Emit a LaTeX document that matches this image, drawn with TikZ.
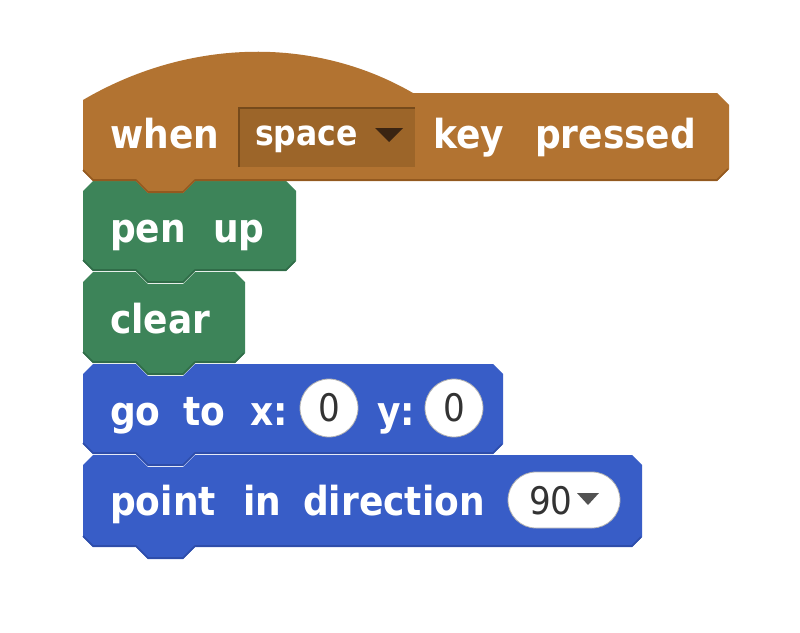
\documentclass[tikz,border=0pt]{standalone}
\usepackage{fontspec}
\newfontfamily\blockfont[FakeStretch=0.9]{DejaVu Sans}
\definecolor{evbrown}{HTML}{B27331}
\definecolor{evdark}{HTML}{93591F}
\definecolor{ddfill}{HTML}{9C6529}
\definecolor{ddedge}{HTML}{764A1B}
\definecolor{ddarrow}{HTML}{3A2412}
\definecolor{pengreen}{HTML}{3D8459}
\definecolor{pendark}{HTML}{306C48}
\definecolor{motblue}{HTML}{385DC7}
\definecolor{motdark}{HTML}{2E4DAA}
\definecolor{numgray}{HTML}{333333}
\newcommand\cmdblock[5]{%
  \fill[#1] (83,{#2+10}) -- (93,#2) -- (136,#2) -- (148,{#2+12}) -- (183,{#2+12}) -- (195,#2)
    -- ({#4-10},#2) -- (#4,{#2+10}) -- (#4,{#3-10}) -- ({#4-10},#3) -- (195,#3) -- (183,{#3+12})
    -- (148,{#3+12}) -- (136,#3) -- (93,#3) -- (83,{#3-10}) -- cycle;
  \draw[#5, line width=1.6pt, line join=round]
    (83,{#3-11}) -- (93,{#3-1}) -- (136,{#3-1}) -- (148,{#3+11}) -- (183,{#3+11}) -- (195,{#3-1})
    -- ({#4-10},{#3-1}) -- ({#4-1},{#3-10});}
\tikzset{
  lbl/.style={anchor=base west, inner sep=0pt, text=white,
    font=\blockfont\bfseries\fontsize{40}{40}\selectfont},
  ddlbl/.style={anchor=base west, inner sep=0pt, text=white,
    font=\blockfont\bfseries\fontsize{35}{35}\selectfont},
  numlbl/.style={inner sep=0pt, text=numgray,
    font=\blockfont\fontsize{38}{38}\selectfont},
  slot/.style={fill=white, draw=black!30, line width=0.8pt}
}
\begin{document}
\begin{tikzpicture}[x=1pt,y=-1pt]
\useasboundingbox[fill=white] (0,0) rectangle (800,632);
% point in direction
\cmdblock{motblue}{455}{547}{642}{motdark}
\node[lbl] (w-point) at (110,515) {point};
\node[lbl] (w-in) at (243,515) {in};
\node[lbl] (w-direction) at (303,515) {direction};
\fill[slot] (536,472) -- (592,472) arc[start angle=-90,end angle=90,radius=28] -- (536,528) arc[start angle=90,end angle=270,radius=28] -- cycle;
\node[numlbl, anchor=base west] (n-90) at (529,514) {90};
\fill[numgray!85] (577,493) -- (599,493) -- (588,505) -- cycle;
% go to x: y:
\cmdblock{motblue}{364}{454}{503}{motdark}
\node[lbl] (w-go) at (110,425) {go};
\node[lbl] (w-to) at (183,425) {to};
\node[lbl] (w-x) at (250,425) {x:};
\node[lbl] (w-y) at (377,425) {y:};
\draw[slot] (329,408) circle[radius=29];
\node[numlbl] (n-x) at (329,408) {0};
\draw[slot] (454,408) circle[radius=29];
\node[numlbl] (n-y) at (454,408) {0};
% clear
\cmdblock{pengreen}{272}{363}{245}{pendark}
\node[lbl] (w-clear) at (110,333) {clear};
% pen up
\cmdblock{pengreen}{181}{271}{296}{pendark}
\node[lbl] (w-pen) at (110,242) {pen};
\node[lbl] (w-up) at (213,242) {up};
% hat block
\fill[evbrown] (83,100) .. controls (185,40) and (311,34) .. (413,93) -- (717,93) -- (729,105)
  -- (729,169) -- (717,181) -- (195,181) -- (183,193) -- (148,193) -- (136,181) -- (93,181)
  -- (83,171) -- cycle;
\draw[evdark, line width=1.6pt, line join=round]
  (83,170) -- (93,180) -- (136,180) -- (148,192) -- (183,192) -- (195,180) -- (717,180) -- (728,169);
\node[lbl] (w-when) at (110,148) {when};
\fill[ddfill] (238,107) rectangle (415,167);
\draw[ddedge, line width=2pt] (239,167) -- (239,108) -- (415,108);
\node[ddlbl] (w-space) at (255,145) {space};
\fill[ddarrow] (375,128) -- (403,128) -- (389,142) -- cycle;
\node[lbl] (w-key) at (433,148) {key};
\node[lbl] (w-pressed) at (535,148) {pressed};
\end{tikzpicture}
\end{document}
